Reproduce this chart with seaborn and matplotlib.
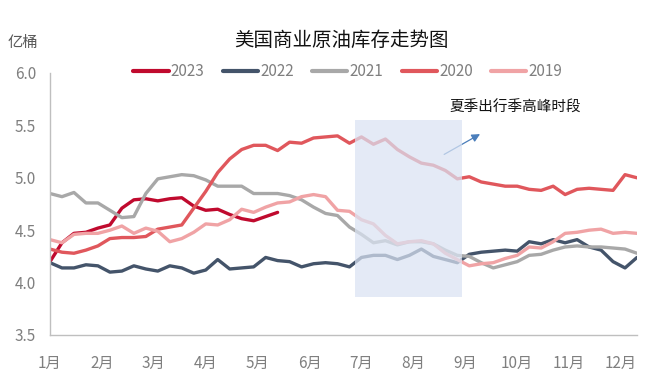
import numpy as np
import pandas as pd
import matplotlib
matplotlib.use('Agg')
import matplotlib.pyplot as plt
from matplotlib.patches import Rectangle
import seaborn as sns

# weekly US commercial crude stocks (亿桶)
v2023 = [4.20, 4.38, 4.47, 4.48, 4.52, 4.55, 4.71, 4.79, 4.80, 4.78,
         4.80, 4.81, 4.73, 4.69, 4.70, 4.65, 4.61, 4.59, 4.63, 4.67]
v2022 = [4.19, 4.14, 4.14, 4.17, 4.16, 4.10, 4.11, 4.16, 4.13, 4.11,
         4.16, 4.14, 4.09, 4.12, 4.22, 4.13, 4.14, 4.15, 4.24, 4.21,
         4.20, 4.15, 4.18, 4.19, 4.18, 4.15, 4.24, 4.26, 4.26, 4.22,
         4.26, 4.32, 4.25, 4.22, 4.19, 4.27, 4.29, 4.30, 4.31, 4.30,
         4.39, 4.37, 4.41, 4.38, 4.41, 4.34, 4.31, 4.20, 4.14, 4.24]
v2021 = [4.85, 4.82, 4.86, 4.76, 4.76, 4.69, 4.62, 4.63, 4.85, 4.99,
         5.01, 5.03, 5.02, 4.98, 4.92, 4.92, 4.92, 4.85, 4.85, 4.85,
         4.83, 4.79, 4.72, 4.66, 4.64, 4.53, 4.46, 4.38, 4.40, 4.36,
         4.39, 4.39, 4.37, 4.31, 4.26, 4.25, 4.19, 4.14, 4.17, 4.20,
         4.26, 4.27, 4.31, 4.34, 4.35, 4.34, 4.34, 4.33, 4.32, 4.28]
v2020 = [4.32, 4.29, 4.28, 4.31, 4.35, 4.42, 4.43, 4.43, 4.44, 4.51,
         4.53, 4.55, 4.71, 4.87, 5.05, 5.18, 5.27, 5.31, 5.31, 5.26,
         5.34, 5.33, 5.38, 5.39, 5.40, 5.33, 5.39, 5.32, 5.37, 5.27,
         5.20, 5.14, 5.12, 5.07, 4.99, 5.01, 4.96, 4.94, 4.92, 4.92,
         4.89, 4.88, 4.92, 4.84, 4.89, 4.90, 4.89, 4.88, 5.03, 5.00]
v2019 = [4.41, 4.38, 4.46, 4.47, 4.47, 4.50, 4.54, 4.47, 4.52, 4.49,
         4.39, 4.42, 4.48, 4.56, 4.55, 4.60, 4.70, 4.67, 4.72, 4.76,
         4.77, 4.82, 4.84, 4.82, 4.69, 4.68, 4.60, 4.56, 4.45, 4.37,
         4.39, 4.40, 4.37, 4.28, 4.22, 4.16, 4.18, 4.19, 4.23, 4.26,
         4.34, 4.33, 4.39, 4.47, 4.48, 4.50, 4.51, 4.47, 4.48, 4.47]
years = ['2023', '2022', '2021', '2020', '2019']
series = [v2023, v2022, v2021, v2020, v2019]
month_labels = ['1月', '2月', '3月', '4月', '5月', '6月',
                '7月', '8月', '9月', '10月', '11月', '12月']
colors = ['#c00a2e', '#44546a', '#a8a8a8', '#e0575c', '#f0a3a5']

rows = []
for y, vals in zip(years, series):
    for i, v in enumerate(vals):
        rows.append({'week': i, 'stock': v, 'year': y})
df = pd.DataFrame(rows)

sns.set_style('white')
plt.rcParams['font.family'] = ['Noto Sans CJK SC', 'DejaVu Sans']

fig = plt.figure(figsize=(6.53, 3.86), dpi=100)
ax = fig.add_axes([50 / 653, 1 - 335 / 386, 587 / 653, 262 / 386])

sns.lineplot(data=df, x='week', y='stock', hue='year', hue_order=years,
             palette=dict(zip(years, colors)), linewidth=2.4, ax=ax,
             legend=False)

# summer driving season band
ax.add_patch(Rectangle((25.5, 3.865), 8.9, 1.69, facecolor='#dae3f3',
                       edgecolor='none', alpha=0.72, zorder=5))
ax.annotate('', xy=(36.1, 5.43), xytext=(32.7, 5.21),
            arrowprops=dict(arrowstyle='-|>', color='#4a7ebb', lw=0.9,
                            mutation_scale=12))
ax.text(38.8, 5.665, '夏季出行季高峰时段', fontsize=10.5, ha='center',
        va='center', color='#111111')

ax.set_xlim(0, 49)
ax.set_ylim(3.5, 6.0)
ax.set_xticks([i * 52 / 12 for i in range(12)])
ax.set_xticklabels(month_labels)
ax.set_yticks([3.5, 4.0, 4.5, 5.0, 5.5, 6.0])
ax.set_yticklabels(['3.5', '4.0', '4.5', '5.0', '5.5', '6.0'])
ax.tick_params(axis='both', colors='#bfbfbf', labelcolor='#7f7f7f',
               labelsize=11, length=4, width=0.8, direction='out')
ax.tick_params(axis='x', pad=10)
ax.tick_params(axis='y', pad=6)
ax.set_xlabel('')
ax.set_ylabel('')
for s in ['top', 'right']:
    ax.spines[s].set_visible(False)
for s in ['left', 'bottom']:
    ax.spines[s].set_color('#bfbfbf')
    ax.spines[s].set_linewidth(1.0)

handles = [plt.Line2D([], [], color=c, lw=3) for c in colors]
fig.legend(handles, years, loc='center', ncol=5, frameon=False,
           bbox_to_anchor=(348 / 653, 1 - 72 / 386), fontsize=11,
           labelcolor='#7f7f7f', handlelength=2.3, columnspacing=1.2,
           handletextpad=0.15)

fig.text(341 / 653, 1 - 40 / 386, '美国商业原油库存走势图', fontsize=14,
         ha='center', va='center', color='#111111')
fig.text(8 / 653, 1 - 43 / 386, '亿桶', fontsize=11, ha='left',
         va='center', color='#595959')

fig.savefig('out.png', dpi=100)
